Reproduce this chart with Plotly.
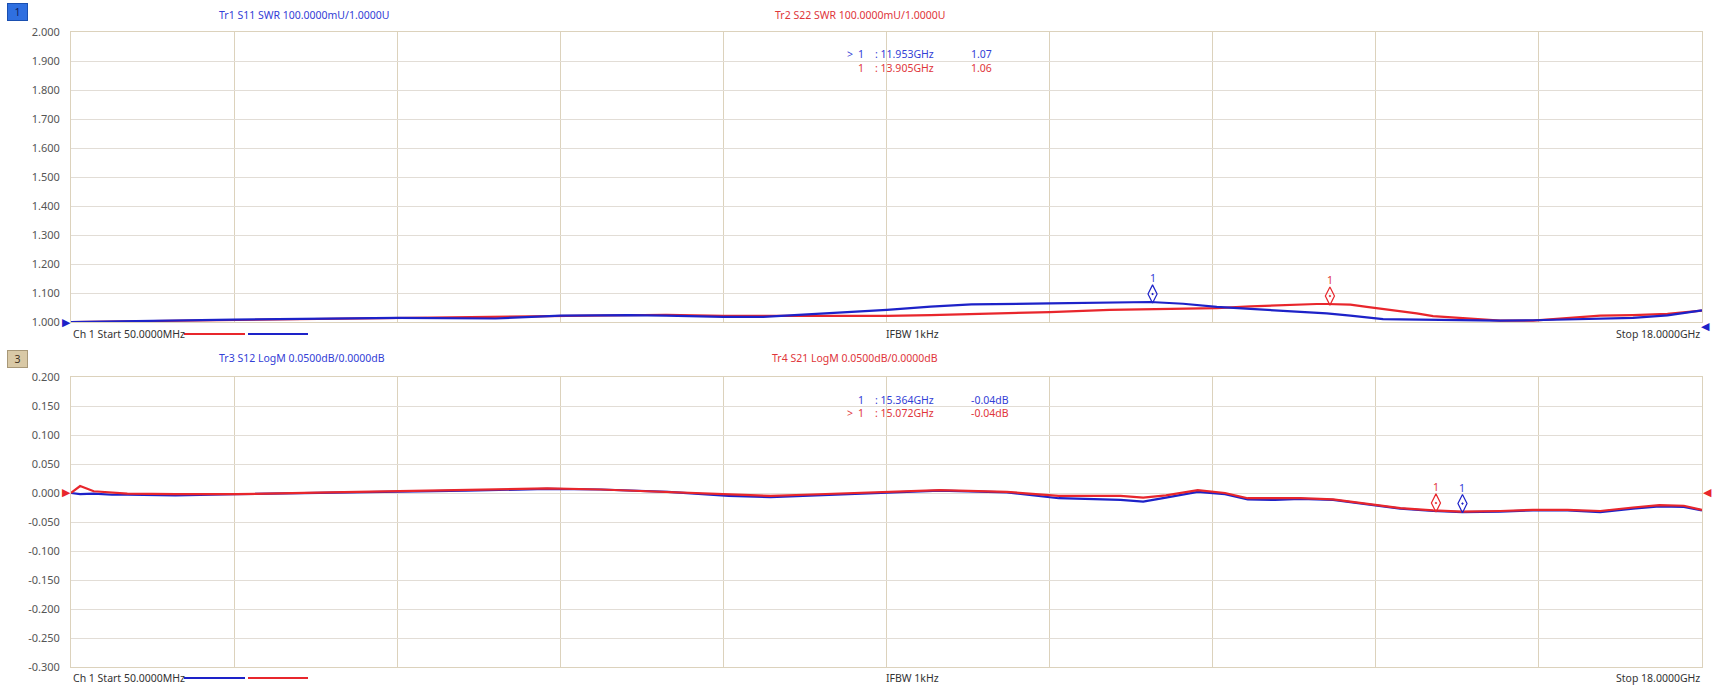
import plotly.graph_objects as go

# ---------------- data ----------------
f_start, f_stop = 0.05, 18.0

f_swr = [0.05, 0.6, 1.84, 3.65, 4.72, 5.44, 6.19, 6.6, 7.23, 7.67, 8.40, 9.03, 9.51, 9.96, 10.82,
         11.48, 11.93, 12.29, 12.66, 13.03, 13.39, 13.58, 13.76, 13.87, 14.13, 14.31, 14.49, 14.68,
         14.86, 15.04, 15.23, 15.41, 15.78, 16.14, 16.52, 16.88, 17.24, 17.62, 18.0]
s11_swr = [1.000, 1.003, 1.008, 1.014, 1.012, 1.022, 1.024, 1.022, 1.018, 1.018, 1.030, 1.042, 1.053,
           1.061, 1.064, 1.068, 1.069, 1.063, 1.052, 1.045, 1.039, 1.036, 1.033, 1.030, 1.022, 1.015,
           1.010, 1.009, 1.008, 1.008, 1.007, 1.006, 1.005, 1.006, 1.008, 1.011, 1.014, 1.023, 1.040]
s22_swr = [1.000, 1.002, 1.006, 1.013, 1.017, 1.020, 1.024, 1.025, 1.021, 1.021, 1.021, 1.021, 1.024,
           1.027, 1.034, 1.042, 1.044, 1.045, 1.048, 1.054, 1.059, 1.062, 1.062, 1.062, 1.060, 1.052,
           1.045, 1.036, 1.030, 1.020, 1.016, 1.011, 1.005, 1.005, 1.014, 1.022, 1.024, 1.028, 1.039]

f_logm = [0.05, 0.15, 0.3, 0.5, 0.67, 1.2, 1.87, 2.9, 3.68, 4.40, 5.29, 5.88, 6.62, 7.29, 7.75, 8.12,
          8.86, 9.61, 10.35, 10.92, 11.6, 11.85, 12.1, 12.45, 12.75, 13.0, 13.3, 13.58, 13.94, 14.31,
          14.68, 15.04, 15.36, 15.78, 16.14, 16.52, 16.88, 17.24, 17.53, 17.8, 18.0]
s21_db = [0.000, 0.012, 0.003, 0.001, -0.001, -0.002, -0.002, 0.001, 0.003, 0.005, 0.008, 0.006, 0.002,
          -0.002, -0.005, -0.003, 0.001, 0.005, 0.002, -0.005, -0.005, -0.008, -0.004, 0.005, 0.000,
          -0.009, -0.009, -0.009, -0.011, -0.018, -0.026, -0.030, -0.032, -0.031, -0.029, -0.029,
          -0.031, -0.025, -0.021, -0.022, -0.029]
s12_db = [0.000, -0.002, -0.001, -0.003, -0.003, -0.004, -0.002, 0.000, 0.002, 0.004, 0.007, 0.006, 0.002,
          -0.005, -0.007, -0.005, 0.000, 0.004, 0.001, -0.009, -0.012, -0.015, -0.008, 0.002, -0.002,
          -0.011, -0.012, -0.010, -0.012, -0.019, -0.027, -0.031, -0.033, -0.032, -0.030, -0.030,
          -0.033, -0.027, -0.023, -0.024, -0.030]

# markers: frequency, trace value at the marker, readout text
mk_s11 = (11.953, 1.069, "11.953GHz", "1.07")
mk_s22 = (13.905, 1.062, "13.905GHz", "1.06")
mk_s12 = (15.364, -0.032, "15.364GHz", "-0.04dB")
mk_s21 = (15.072, -0.031, "15.072GHz", "-0.04dB")

swr_ticks = [1.0, 1.1, 1.2, 1.3, 1.4, 1.5, 1.6, 1.7, 1.8, 1.9, 2.0]
db_ticks = [0.2, 0.15, 0.1, 0.05, 0.0, -0.05, -0.1, -0.15, -0.2, -0.25, -0.3]

# ---------------- style ----------------
BLUE = "#1d22c8"
RED = "#e8262c"
TXT_BLUE = "#3340d6"
TXT_RED = "#e0353a"
GRID_V = "#dcd2bc"
GRID_H = "#e2ddd6"
FONT = "Noto Sans"

W, H = 1715, 687
L, R, T, B = 71, 1702, 32, 667


def px(x):
    return (x - L) / (R - L)


def py(y):
    return (B - y) / (B - T)


fig = go.Figure()

fig.add_trace(go.Scatter(x=f_swr, y=s22_swr, mode="lines", line=dict(color=RED, width=2.2),
                         xaxis="x", yaxis="y", showlegend=False))
fig.add_trace(go.Scatter(x=f_swr, y=s11_swr, mode="lines", line=dict(color=BLUE, width=2.2),
                         xaxis="x", yaxis="y", showlegend=False))
fig.add_trace(go.Scatter(x=f_logm, y=s12_db, mode="lines", line=dict(color=BLUE, width=2.2),
                         xaxis="x2", yaxis="y2", showlegend=False))
fig.add_trace(go.Scatter(x=f_logm, y=s21_db, mode="lines", line=dict(color=RED, width=2.2),
                         xaxis="x2", yaxis="y2", showlegend=False))

# marker diamonds (sitting just above the trace)
top_off = 8 * (0.1 / 29)
bot_off = 8 * (0.05 / 29)
for (mk, col, xa, ya, off) in [(mk_s11, BLUE, "x", "y", top_off), (mk_s22, RED, "x", "y", top_off),
                               (mk_s12, BLUE, "x2", "y2", bot_off), (mk_s21, RED, "x2", "y2", bot_off)]:
    fig.add_trace(go.Scatter(x=[mk[0]], y=[mk[1] + off], mode="markers",
                             marker=dict(symbol="diamond-tall-open-dot", size=13, color=col,
                                         line=dict(color=col, width=1.2)),
                             xaxis=xa, yaxis=ya, showlegend=False, cliponaxis=False))

xgrid = [f_start + i * (f_stop - f_start) / 10 for i in range(11)]

axis_common = dict(showgrid=True, zeroline=False, showline=True, mirror=True, linecolor=GRID_V,
                   linewidth=1, ticks="")
fig.update_layout(
    width=W, height=H,
    margin=dict(l=L, r=W - R, t=T, b=H - B),
    paper_bgcolor="white", plot_bgcolor="white",
    font=dict(family=FONT, size=10, color="#444"),
    xaxis=dict(domain=[0, 1], range=[f_start, f_stop], tickvals=xgrid, showticklabels=False,
               gridcolor=GRID_V, anchor="y", **axis_common),
    yaxis=dict(domain=[py(322), 1], range=[1.0, 2.0], tickvals=swr_ticks,
               ticktext=[f"{v:.3f}" for v in swr_ticks], gridcolor=GRID_H,
               tickfont=dict(size=11, color="#555"), ticklabelstandoff=8, anchor="x", **axis_common),
    xaxis2=dict(domain=[0, 1], range=[f_start, f_stop], tickvals=xgrid, showticklabels=False,
                gridcolor=GRID_V, anchor="y2", **axis_common),
    yaxis2=dict(domain=[0, py(377)], range=[-0.3, 0.2], tickvals=db_ticks,
                ticktext=[f"{v:.3f}" for v in db_ticks], gridcolor=GRID_H,
                tickfont=dict(size=11, color="#555"), ticklabelstandoff=8, anchor="x2", **axis_common),
)

ann = []


def text(x, y, s, color="#333", anchor="left", size=10.5, **kw):
    ann.append(dict(xref="paper", yref="paper", x=px(x), y=py(y), text=s, showarrow=False,
                    xanchor=anchor, yanchor="middle", font=dict(family=FONT, size=size, color=color), **kw))


# channel badges
text(7, 12.5, "&nbsp;&nbsp;1&nbsp;&nbsp;", color="#102060", bgcolor="#2f6fe0", bordercolor="#1a4fb0", borderwidth=1)
text(7, 359, "&nbsp;&nbsp;3&nbsp;&nbsp;", color="#403020", bgcolor="#d9c9a6", bordercolor="#a89878", borderwidth=1)

# trace headers
text(217, 15, "Tr1 S11 SWR 100.0000mU/1.0000U", TXT_BLUE)
text(773, 15, "Tr2 S22 SWR 100.0000mU/1.0000U", TXT_RED)
text(217, 358, "Tr3 S12 LogM 0.0500dB/0.0000dB", TXT_BLUE)
text(770, 358, "Tr4 S21 LogM 0.0500dB/0.0000dB", TXT_RED)

# marker readouts
for (yy, mk, col, active) in [(54, mk_s11, TXT_BLUE, True), (68, mk_s22, TXT_RED, False),
                              (400, mk_s12, TXT_BLUE, False), (413, mk_s21, TXT_RED, True)]:
    if active:
        text(845, yy, "&gt;", col)
    text(856, yy, "1", col)
    text(873, yy, ":&nbsp;" + mk[2], col)
    text(969, yy, mk[3], col)

# footers
for yy in (334, 678):
    text(71, yy, "Ch 1 Start 50.0000MHz", "#333")
    text(884, yy, "IFBW 1kHz", "#333")
    text(1702, yy, "Stop 18.0000GHz", "#333", anchor="right")

# marker "1" labels
for (mk, col, xa, ya, off) in [(mk_s11, TXT_BLUE, "x", "y", top_off), (mk_s22, TXT_RED, "x", "y", top_off),
                               (mk_s12, TXT_BLUE, "x2", "y2", bot_off), (mk_s21, TXT_RED, "x2", "y2", bot_off)]:
    ann.append(dict(xref=xa, yref=ya, x=mk[0], y=mk[1] + off, text="1", showarrow=False, yshift=16,
                    font=dict(family=FONT, size=10.5, color=col)))

# reference-level triangles
for (xa, ya, yv, col) in [("x", "y", 1.0, BLUE), ("x2", "y2", 0.0, RED)]:
    ann.append(dict(xref=xa + " domain", yref=ya, x=0, y=yv, text="▶", showarrow=False, xanchor="right",
                    xshift=2, font=dict(family="DejaVu Sans", size=11, color=col)))
ann.append(dict(xref="x domain", yref="y", x=1, y=1.0, text="◀", showarrow=False, xanchor="left",
                yshift=-4, xshift=-3, font=dict(family="DejaVu Sans", size=11, color=BLUE)))
ann.append(dict(xref="x2 domain", yref="y2", x=1, y=0.0, text="◀", showarrow=False, xanchor="left",
                xshift=-1, font=dict(family="DejaVu Sans", size=11, color=RED)))

fig.update_layout(annotations=ann)

# legend-like colour bars next to "Ch 1 Start"
shapes = []
for (yy, c1, c2) in [(334, RED, BLUE), (678, BLUE, RED)]:
    shapes.append(dict(type="line", xref="paper", yref="paper", x0=px(184), x1=px(245), y0=py(yy), y1=py(yy),
                       line=dict(color=c1, width=2)))
    shapes.append(dict(type="line", xref="paper", yref="paper", x0=px(248), x1=px(308), y0=py(yy), y1=py(yy),
                       line=dict(color=c2, width=2)))
fig.update_layout(shapes=shapes)

fig.write_html("out.html", config={"displayModeBar": False},
               post_script="document.body.style.margin='0';")
